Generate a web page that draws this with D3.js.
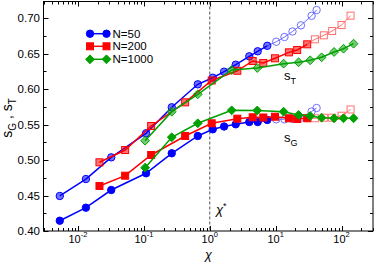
<!DOCTYPE html>
<html>
<head>
<meta charset="utf-8">
<script src="https://cdn.jsdelivr.net/npm/d3@7"></script>
<style>
  body { margin: 0; background: #fff; }
  text { font-family: "Liberation Sans", Arial, sans-serif; }
</style>
</head>
<body>
<svg id="drawing_region"></svg>
<script>
// N=50 (circles); the last points are drawn open
const chiN50 = [0.0053, 0.0132, 0.032, 0.108, 0.265, 0.658, 1.11, 1.65, 2.48, 3.98, 5.34, 7.46,
                10.2, 13.6, 18.0, 24.2, 35.1, 41.8];
const sTN50 = [0.4494, 0.4733, 0.5039, 0.5378, 0.5745, 0.6069, 0.6162, 0.6247, 0.6346, 0.6464, 0.6535, 0.6612,
               0.6669, 0.6736, 0.6814, 0.6901, 0.7035, 0.7117];
const sGN50 = [0.4145, 0.4329, 0.4578, 0.4814, 0.5096, 0.5340, 0.5434, 0.5474, 0.5505, 0.5537, 0.5537, 0.5566,
               0.5575, 0.5575, 0.5580, 0.5598, 0.5685, 0.5735];
const filledN50 = 12;

// N=200 (squares)
const chiN200 = [0.0212, 0.052, 0.129, 0.423, 1.07, 2.62, 4.48, 6.49, 9.76, 15.9, 21.2, 30.1,
                 39.4, 53.9, 72.0, 100, 137];
const sTN200 = [0.4969, 0.5142, 0.5481, 0.5815, 0.6123, 0.6260, 0.6398, 0.6370, 0.6436, 0.6520, 0.6553, 0.6633,
                0.6704, 0.6760, 0.6821, 0.6905, 0.7037];
const sGN200 = [0.4635, 0.4780, 0.5072, 0.5340, 0.5519, 0.5584, 0.5604, 0.5601, 0.5612, 0.5590, 0.5580, 0.5590,
                0.5590, 0.5598, 0.5598, 0.5626, 0.5714];
const filledN200 = 12;

// N=1000 (diamonds)
const chiN1000 = [0.1046, 0.265, 0.658, 2.15, 5.26, 13.2, 22.3, 33.4, 49.8, 76.9, 107, 152];
const sTN1000 = [0.5274, 0.5683, 0.5928, 0.6271, 0.6299, 0.6360, 0.6380, 0.6408, 0.6450, 0.6525, 0.6571, 0.6642];
const sGN1000 = [0.4893, 0.5322, 0.5519, 0.5702, 0.5700, 0.5683, 0.5636, 0.5622, 0.5598, 0.5590, 0.5590, 0.5590];
const filledN1000 = 12;

const legendLabels = ["N=50", "N=200", "N=1000"];
const yTicks = [0.40, 0.45, 0.50, 0.55, 0.60, 0.65, 0.70];
const xDecades = [-2, -1, 0, 1, 2];
const chiStar = 1;

const width = 374, height = 263;
const margin = {left: 43.5, right: 1, top: 1.5, bottom: 32};

const svg = d3.select("#drawing_region")
    .attr("width", width)
    .attr("height", height);

const x = d3.scaleLog()
    .domain([0.003, 300])
    .range([margin.left, width - margin.right]);

const y = d3.scaleLinear()
    .domain([0.40, 0.7237])
    .range([height - margin.bottom, margin.top]);

const x0 = margin.left, x1 = width - margin.right;
const y0 = height - margin.bottom, y1 = margin.top;

// ticks, inward on all four sides
const tickG = svg.append("g").attr("stroke", "black").attr("stroke-width", 1);
const minorX = [];
for (let e = -3; e <= 2; e++) {
    for (let k = 1; k <= 9; k++) {
        const v = k * Math.pow(10, e);
        if (v >= 0.003 && v <= 300) minorX.push({v: v, major: k === 1});
    }
}
minorX.forEach(t => {
    const len = t.major ? 5 : 3;
    const px = Math.round(x(t.v)) + 0.5;
    tickG.append("line").attr("x1", px).attr("x2", px).attr("y1", y0).attr("y2", y0 - len);
    tickG.append("line").attr("x1", px).attr("x2", px).attr("y1", y1).attr("y2", y1 + len);
});
d3.range(0.40, 0.7237, 0.025).forEach((v, i) => {
    const len = i % 2 === 0 ? 5 : 3;
    const py = Math.round(y(v)) + 0.5;
    tickG.append("line").attr("x1", x0).attr("x2", x0 + len).attr("y1", py).attr("y2", py);
    tickG.append("line").attr("x1", x1).attr("x2", x1 - len).attr("y1", py).attr("y2", py);
});

// frame
svg.append("rect")
    .attr("x", x0).attr("y", y1)
    .attr("width", x1 - x0).attr("height", y0 - y1)
    .attr("fill", "none").attr("stroke", "black").attr("stroke-width", 1);

// tick labels
svg.selectAll(".ylab")
    .data(yTicks)
    .enter()
    .append("text")
    .attr("x", x0 - 3.5)
    .attr("y", d => y(d) + 4)
    .attr("text-anchor", "end")
    .attr("font-size", "11.5px")
    .text(d => d3.format(".2f")(d));

const xl = svg.selectAll(".xlab")
    .data(xDecades)
    .enter()
    .append("text")
    .attr("x", d => x(Math.pow(10, d)))
    .attr("y", 243)
    .attr("text-anchor", "middle")
    .attr("font-size", "11px");
xl.append("tspan").text("10");
xl.append("tspan").attr("dy", -6).attr("font-size", "7.5px").text(d => d);

// axis titles
svg.append("text")
    .attr("x", 205)
    .attr("y", 258.5)
    .attr("font-family", "Liberation Serif, serif")
    .attr("font-style", "italic")
    .attr("font-size", "12.5px")
    .text("χ");

const yt = svg.append("text")
    .attr("transform", "translate(12,118) rotate(-90)")
    .attr("text-anchor", "middle")
    .attr("font-size", "14px");
yt.append("tspan").text("s");
yt.append("tspan").attr("dy", 4).attr("font-size", "10px").text("G");
yt.append("tspan").attr("dy", -4).text(" , s");
yt.append("tspan").attr("dy", 4).attr("font-size", "10px").text("T");

// dashed chi* line
svg.append("line")
    .attr("x1", x(chiStar)).attr("x2", x(chiStar))
    .attr("y1", y1).attr("y2", y0)
    .attr("stroke", "#555")
    .attr("stroke-width", 1)
    .attr("stroke-dasharray", "3,2");

const cs = svg.append("text")
    .attr("x", 216)
    .attr("y", 214)
    .attr("font-family", "Liberation Serif, serif")
    .attr("font-style", "italic")
    .attr("font-size", "13px");
cs.append("tspan").text("χ");
cs.append("tspan").attr("dy", -5).attr("font-size", "9px").attr("font-style", "normal").text("*");

// curve labels
const lt = svg.append("text").attr("x", 284).attr("y", 80).attr("font-size", "13px");
lt.append("tspan").text("s");
lt.append("tspan").attr("dy", 4).attr("font-size", "9px").text("T");
const lg = svg.append("text").attr("x", 284).attr("y", 142).attr("font-size", "13px");
lg.append("tspan").text("s");
lg.append("tspan").attr("dy", 4).attr("font-size", "9px").text("G");

// series
const series = [
    {chi: chiN50, sT: sTN50, sG: sGN50, nFilled: filledN50, color: "#0000ff", light: "#6f6fff", shape: "circle"},
    {chi: chiN200, sT: sTN200, sG: sGN200, nFilled: filledN200, color: "#ff0000", light: "#ff6f6f", shape: "square"},
    {chi: chiN1000, sT: sTN1000, sG: sGN1000, nFilled: filledN1000, color: "#00a000", light: "#5fc05f", shape: "diamond"}
];

function drawMarker(g, shape, cx, cy, fill, stroke, sw) {
    let m;
    if (shape === "circle") {
        m = g.append("circle").attr("cx", cx).attr("cy", cy).attr("r", 3.7);
    } else if (shape === "square") {
        m = g.append("rect").attr("x", cx - 3.5).attr("y", cy - 3.5).attr("width", 7).attr("height", 7);
    } else {
        const r = 4.4;
        m = g.append("path").attr("d", `M${cx},${cy - r}L${cx + r},${cy}L${cx},${cy + r}L${cx - r},${cy}Z`);
    }
    m.attr("fill", fill.c).attr("fill-opacity", fill.o).attr("stroke", stroke).attr("stroke-width", sw);
}

const line = d3.line().x(d => x(d[0])).y(d => y(d[1]));

series.forEach(s => {
    const g = svg.append("g");
    ["sG", "sT"].forEach(key => {
        const pts = s.chi.map((c, i) => [c, s[key][i]]);
        const solid = pts.slice(0, s.nFilled);
        const open = pts.slice(s.nFilled - 1);
        if (open.length > 1) {
            g.append("path").attr("d", line(open)).attr("fill", "none")
                .attr("stroke", s.light).attr("stroke-width", 1);
        }
        g.append("path").attr("d", line(solid)).attr("fill", "none")
            .attr("stroke", s.color).attr("stroke-width", 1.5);
        pts.forEach((p, i) => {
            if (i < s.nFilled) {
                const fill = key === "sT" ? {c: s.color, o: 0.55} : {c: s.color, o: 1};
                drawMarker(g, s.shape, x(p[0]), y(p[1]), fill, s.color, 1);
            } else {
                drawMarker(g, s.shape, x(p[0]), y(p[1]), {c: "none", o: 1}, s.light, 1);
            }
        });
    });
});

// legend
const legendY = [33.7, 46.3, 59.3];
series.forEach((s, i) => {
    const g = svg.append("g");
    g.append("line").attr("x1", 90).attr("x2", 106.5)
        .attr("y1", legendY[i]).attr("y2", legendY[i])
        .attr("stroke", s.color).attr("stroke-width", 1.5);
    drawMarker(g, s.shape, 90, legendY[i], {c: s.color, o: 1}, s.color, 1);
    drawMarker(g, s.shape, 106.5, legendY[i], {c: s.color, o: 1}, s.color, 1);
    g.append("text").attr("x", 112.5).attr("y", legendY[i] + 4)
        .attr("font-size", "11.5px").text(legendLabels[i]);
});
</script>
</body>
</html>
